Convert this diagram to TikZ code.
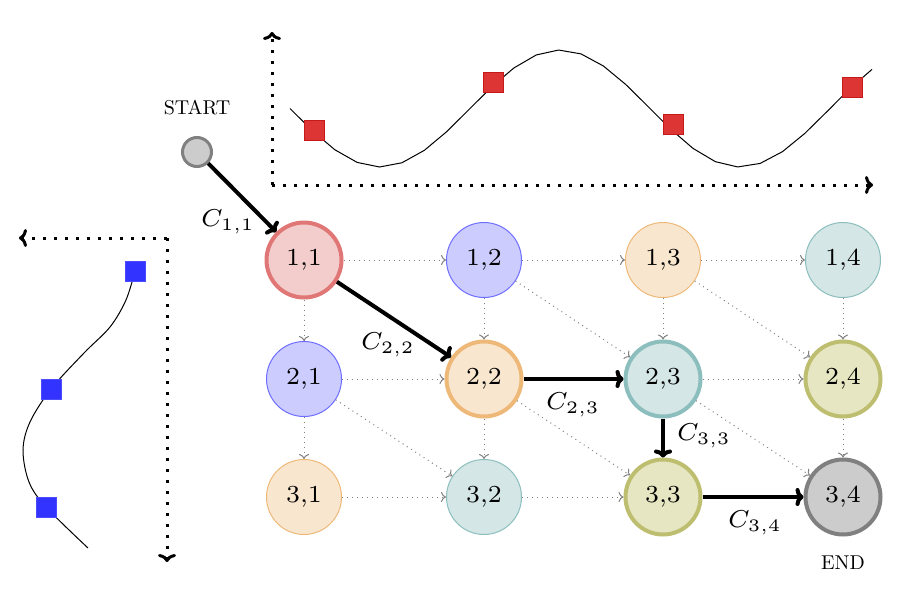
\documentclass[tikz,border=0pt]{standalone}
\usetikzlibrary{arrows.meta}
\definecolor{redfill}{RGB}{243,204,204}
\definecolor{redbord}{RGB}{224,118,118}
\definecolor{orangefill}{RGB}{249,230,207}
\definecolor{orangebord}{RGB}{238,185,120}
\definecolor{bluefill}{RGB}{204,204,255}
\definecolor{bluebord}{RGB}{110,110,255}
\definecolor{tealfill}{RGB}{212,230,230}
\definecolor{tealbord}{RGB}{140,190,190}
\definecolor{olivefill}{RGB}{230,230,194}
\definecolor{olivebord}{RGB}{190,190,112}
\definecolor{sqred}{RGB}{221,52,52}
\begin{document}
\begin{tikzpicture}[x=0.5pt,y=-0.5pt,
  gn/.style={circle, minimum size=37.5pt, inner sep=0pt},
  thinb/.style={line width=0.5pt},
  thickb/.style={line width=2pt},
  cred/.style={fill=redfill, draw=redbord},
  cblue/.style={fill=bluefill, draw=bluebord},
  corange/.style={fill=orangefill, draw=orangebord},
  cteal/.style={fill=tealfill, draw=tealbord},
  colive/.style={fill=olivefill, draw=olivebord},
  cgray/.style={fill=black!20, draw=black!50},
  ge/.style={-{To[length=2.5pt,width=5pt]}, gray, dotted, line width=0.5pt},
  pe/.style={-{To[length=4pt,width=9pt]}, line width=2pt, black},
  axis/.style={line width=1.5pt, dash pattern=on 1.5pt off 4pt, -{To[length=4pt,width=9pt]}},
  lbl/.style={inner sep=0pt},
  sq/.style={minimum size=10pt, inner sep=0pt},
  rsq/.style={sq, fill=sqred, draw=red!75!black!90},
  bsq/.style={sq, fill=blue!80, draw=blue!70},
]
\newcommand{\nl}[1]{\scalebox{1.75}{\scriptsize #1}}
\newcommand{\ml}[1]{\scalebox{1.75}{\scriptsize $#1$}}
\useasboundingbox (0,0) rectangle (900,600);

% top plot
\coordinate (ta) at (272,185);
\coordinate (tx) at (873,185);
\coordinate (ty) at (272,32);
\draw[axis] (ta) -- (tx);
\draw[axis] (ta) -- (ty);
\draw[line width=0.5pt, domain=290:872, samples=27, variable=\t] plot (\t,{108.5+58.5*sin(\t-290)});
\node[rsq] (r1) at (314,130) {};
\node[rsq] (r2) at (493,82) {};
\node[rsq] (r3) at (673,124) {};
\node[rsq] (r4) at (852,87) {};

% left plot
\coordinate (la) at (167,238);
\coordinate (lx) at (19,238);
\coordinate (ly) at (167,562);
\draw[axis] (la) -- (lx);
\draw[axis] (la) -- (ly);
\draw[line width=0.5pt] plot[smooth, tension=0.55] coordinates {(135,271) (126,300) (110,327) (84,353) (51,389) (30,422) (23,450) (29,482) (46,507) (88,548)};
\node[bsq] (b1) at (135,271) {};
\node[bsq] (b2) at (51,389) {};
\node[bsq] (b3) at (46,507) {};

% start / end
\node[circle, minimum size=14.5pt, inner sep=0pt, fill=black!20, draw=black!50, line width=1.5pt] (s) at (197,152) {};
\node (st) at (197,108) {START};

% grid nodes
\node[gn, cred, thickb] (n11) at (304,260) {\nl{1,1}};
\node[gn, cblue, thinb] (n12) at (484,260) {\nl{1,2}};
\node[gn, corange, thinb] (n13) at (663,260) {\nl{1,3}};
\node[gn, cteal, thinb] (n14) at (843,260) {\nl{1,4}};
\node[gn, cblue, thinb] (n21) at (304,379) {\nl{2,1}};
\node[gn, corange, thickb] (n22) at (484,379) {\nl{2,2}};
\node[gn, cteal, thickb] (n23) at (663,379) {\nl{2,3}};
\node[gn, colive, thickb] (n24) at (843,379) {\nl{2,4}};
\node[gn, corange, thinb] (n31) at (304,497) {\nl{3,1}};
\node[gn, cteal, thinb] (n32) at (484,497) {\nl{3,2}};
\node[gn, colive, thickb] (n33) at (663,497) {\nl{3,3}};
\node[gn, cgray, thickb] (n34) at (843,497) {\nl{3,4}};
\node (en) at (843,563) {END};

% dotted gray edges
\draw[ge] (n11) -- (n12);
\draw[ge] (n12) -- (n13);
\draw[ge] (n13) -- (n14);
\draw[ge] (n21) -- (n22);
\draw[ge] (n23) -- (n24);
\draw[ge] (n31) -- (n32);
\draw[ge] (n32) -- (n33);
\draw[ge] (n11) -- (n21);
\draw[ge] (n12) -- (n22);
\draw[ge] (n13) -- (n23);
\draw[ge] (n14) -- (n24);
\draw[ge] (n21) -- (n31);
\draw[ge] (n22) -- (n32);
\draw[ge] (n24) -- (n34);
\draw[ge] (n12) -- (n23);
\draw[ge] (n13) -- (n24);
\draw[ge] (n21) -- (n32);
\draw[ge] (n22) -- (n33);
\draw[ge] (n23) -- (n34);

% path
\draw[pe] (s) -- (n11);
\draw[pe] (n11) -- (n22);
\draw[pe] (n22) -- (n23);
\draw[pe] (n23) -- (n33);
\draw[pe] (n33) -- (n34);

\node[lbl] (l11) at (228,222) {\ml{C_{1,1}}};
\node[lbl] (l22) at (388,345) {\ml{C_{2,2}}};
\node[lbl] (l23) at (573,405) {\ml{C_{2,3}}};
\node[lbl] (l33) at (704,436) {\ml{C_{3,3}}};
\node[lbl] (l34) at (755,523) {\ml{C_{3,4}}};
\end{tikzpicture}
\end{document}
